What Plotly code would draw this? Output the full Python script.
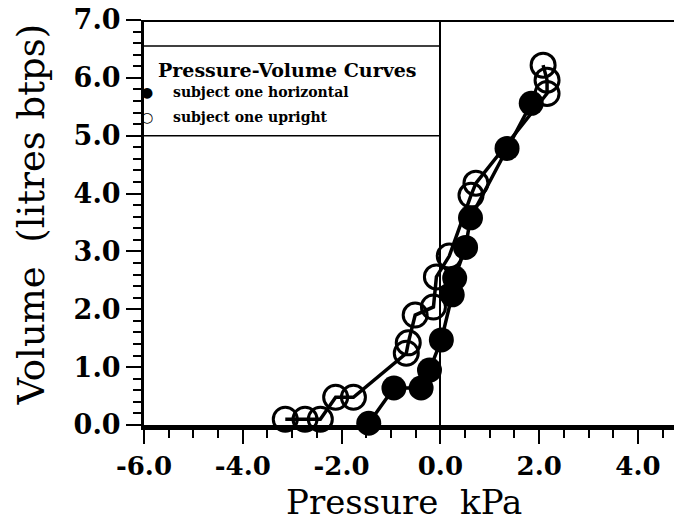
import plotly.graph_objects as go

# Pressure (kPa) and volume (litres BTPS) readings, subject horizontal
horiz_p = [-1.45, -0.94, -0.39, -0.22, 0.02, 0.24, 0.29, 0.51, 0.61, 1.35, 1.84]
horiz_v = [0.03, 0.64, 0.64, 0.95, 1.47, 2.25, 2.54, 3.07, 3.58, 4.78, 5.56]

# Pressure (kPa) and volume (litres BTPS) readings, subject upright
upr_p = [-3.14, -2.74, -2.43, -2.12, -1.76, -0.69, -0.65, -0.51, -0.14, -0.08, 0.18, 0.62, 0.72, 2.16, 2.16, 2.08]
upr_v = [0.10, 0.10, 0.10, 0.48, 0.48, 1.24, 1.42, 1.90, 2.04, 2.56, 2.92, 3.97, 4.18, 5.73, 5.96, 6.22]

x_ticks = [-6, -4, -2, 0, 2, 4]
y_ticks = [0, 1, 2, 3, 4, 5, 6, 7]

legend_title = "Pressure-Volume Curves"
legend_labels = ["subject one horizontal", "subject one upright"]
x_title = "Pressure\u00a0\u00a0kPa"
y_title = "Volume\u00a0\u00a0(litres btps)"

SERIF = "DejaVu Serif"

fig = go.Figure()

fig.add_trace(go.Scatter(
    x=upr_p, y=upr_v, mode="lines+markers", cliponaxis=False,
    line=dict(color="black", width=3.5),
    marker=dict(symbol="circle-open", size=24, color="black", line=dict(width=3, color="black")),
    name=legend_labels[1], showlegend=False,
))
fig.add_trace(go.Scatter(
    x=horiz_p, y=horiz_v, mode="lines+markers", cliponaxis=False,
    line=dict(color="black", width=3.5),
    marker=dict(symbol="circle", size=25, color="black"),
    name=legend_labels[0], showlegend=False,
))

# frame line along the top of the plot
fig.add_shape(type="line", xref="paper", yref="y", x0=0, x1=1, y0=7, y1=7,
              line=dict(color="black", width=4))
# key box lines
for yv in (6.55, 5.0):
    fig.add_shape(type="line", xref="x", yref="y", x0=-6, x1=0, y0=yv, y1=yv,
                  line=dict(color="black", width=1.5))

fig.add_annotation(x=-3.1, y=6.14, text=legend_title, showarrow=False,
                   xanchor="center", yanchor="middle",
                   font=dict(family=SERIF, size=19, color="black", weight="bold"))
for sym, lab, yv in (("\u25cf", legend_labels[0], 5.76), ("\u25cb", legend_labels[1], 5.32)):
    fig.add_annotation(x=-5.93, y=yv, text=sym, showarrow=False,
                       xanchor="center", yanchor="middle",
                       font=dict(family=SERIF, size=14, color="black", weight="bold"))
    fig.add_annotation(x=-5.45, y=yv, text=lab, showarrow=False,
                       xanchor="left", yanchor="middle",
                       font=dict(family=SERIF, size=14, color="black", weight="bold"))

# axis titles
fig.add_annotation(xref="paper", yref="paper", x=0.5, y=0, yanchor="bottom",
                   xanchor="center", yshift=-99, xshift=-5, text=x_title, showarrow=False,
                   font=dict(family=SERIF, size=34, color="black"))
fig.add_annotation(xref="paper", yref="paper", x=0, y=0.5, xanchor="center",
                   yanchor="middle", xshift=-113, yshift=8, textangle=-90, text=y_title,
                   showarrow=False, font=dict(family=SERIF, size=37, color="black"))

fig.update_xaxes(
    range=[-6, 4.73], tickvals=x_ticks, ticktext=[f"{v:.1f}" for v in x_ticks],
    showline=True, linecolor="black", linewidth=5,
    ticks="outside", ticklen=14, tickwidth=2, tickcolor="black",
    minor=dict(dtick=0.5, tick0=0, ticks="outside", ticklen=8, tickwidth=2, tickcolor="black"),
    showgrid=False, zeroline=True, zerolinecolor="black", zerolinewidth=2,
    tickfont=dict(family=SERIF, size=26, color="black", weight="bold"),
)
fig.update_yaxes(
    range=[0, 7], tickvals=y_ticks, ticktext=[f"{v:.1f}" for v in y_ticks],
    showline=True, linecolor="black", linewidth=3,
    ticks="outside", ticklen=15, tickwidth=2, tickcolor="black",
    minor=dict(dtick=0.2, tick0=0, ticks="outside", ticklen=8, tickwidth=2, tickcolor="black"),
    showgrid=False, zeroline=False,
    tickfont=dict(family=SERIF, size=27, color="black", weight="bold"),
)

fig.update_layout(
    width=674, height=524,
    margin=dict(l=144, r=0, t=20, b=99),
    plot_bgcolor="white", paper_bgcolor="white",
)

fig.write_html("out.html")
